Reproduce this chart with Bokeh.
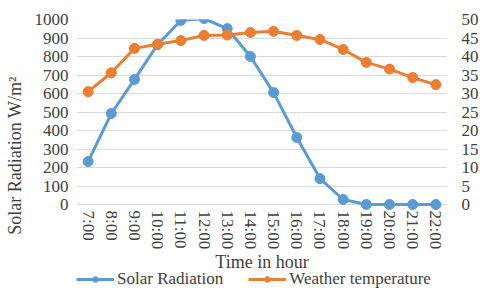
from bokeh.plotting import figure
from bokeh.models import FactorRange, Range1d, LinearAxis, Legend, LegendItem, FixedTicker, ColumnDataSource
from bokeh.embed import file_html
from bokeh.resources import INLINE

hours = ["7:00", "8:00", "9:00", "10:00", "11:00", "12:00", "13:00", "14:00",
         "15:00", "16:00", "17:00", "18:00", "19:00", "20:00", "21:00", "22:00"]
solar = [232, 492, 676, 865, 995, 1005, 951, 800, 605, 362, 140, 27, 0, 0, 0, 0]
temperature = [30.5, 35.6, 42.2, 43.3, 44.3, 45.7, 45.8, 46.5, 46.8, 45.7, 44.6, 41.9, 38.4, 36.6, 34.3, 32.4]
left_ticks = list(range(0, 1001, 100))
right_ticks = list(range(0, 51, 5))

BLUE = "#5B9BD5"
ORANGE = "#ED7D31"
FONT = "Liberation Serif"
TXT = "#404040"

# plot area: 185 px for the 0..1000 scale; the frame extends 87 px lower so that
# the x axis (pinned at 0) and the legend sit inside it
PLOT_H, EXTRA_H = 185, 87
low = -1000 * EXTRA_H / PLOT_H

src = ColumnDataSource(dict(h=hours, s=solar, t=temperature))

p = figure(x_range=FactorRange(*hours, range_padding=0), y_range=Range1d(low, 1000),
           frame_width=371, frame_height=PLOT_H + EXTRA_H,
           min_border_left=76, min_border_top=19, min_border_right=24, min_border_bottom=0,
           output_backend="svg", toolbar_location=None)
p.extra_y_ranges = {"temp": Range1d(low / 20, 50)}
p.outline_line_color = None
p.background_fill_color = "white"

p.xgrid.grid_line_color = None
p.ygrid.grid_line_color = "#D9D9D9"
p.ygrid.ticker = FixedTicker(ticks=left_ticks)

p.yaxis.ticker = FixedTicker(ticks=left_ticks)
p.yaxis.axis_label = "Solar Radiation W/m²"
p.yaxis.bounds = (-222, 1000)

right = LinearAxis(y_range_name="temp", ticker=FixedTicker(ticks=right_ticks))
p.add_layout(right, "right")

p.xaxis.axis_label = "Time in hour"
p.xaxis.major_label_orientation = "vertical"
p.xaxis.fixed_location = 0

for ax in [p.xaxis[0], p.yaxis[0], right]:
    ax.axis_line_color = None
    ax.major_tick_line_color = None
    ax.minor_tick_line_color = None
    ax.major_tick_out = 0
    ax.major_tick_in = 0
    ax.major_label_text_font = FONT
    ax.major_label_text_font_size = "17px"
    ax.major_label_text_color = TXT
    ax.axis_label_text_font = FONT
    ax.axis_label_text_font_size = "18px"
    ax.axis_label_text_font_style = "normal"
    ax.axis_label_text_color = TXT
p.xaxis.major_label_standoff = 6
p.xaxis.axis_label_standoff = 0
p.yaxis[0].major_label_standoff = 8
p.yaxis[0].axis_label_standoff = 7
right.major_label_standoff = 14

l1 = p.line("h", "s", source=src, line_color=BLUE, line_width=3)
c1 = p.scatter("h", "s", source=src, size=10, color=BLUE)
l2 = p.line("h", "t", source=src, line_color=ORANGE, line_width=3, y_range_name="temp")
c2 = p.scatter("h", "t", source=src, size=10, color=ORANGE, y_range_name="temp")

legend = Legend(items=[LegendItem(label="Solar Radiation", renderers=[l1, c1]),
                       LegendItem(label="Weather temperature", renderers=[l2, c2])],
                orientation="horizontal", location=(0, 2),
                label_text_font="'Liberation Serif', 'Times New Roman', serif",
                label_text_font_size="17px", label_text_color=TXT,
                glyph_width=38, glyph_height=14, label_standoff=3, spacing=25,
                padding=0, margin=0, border_line_color=None, background_fill_alpha=0)
p.add_layout(legend, "center")

open("out.html", "w").write(file_html(p, INLINE))
